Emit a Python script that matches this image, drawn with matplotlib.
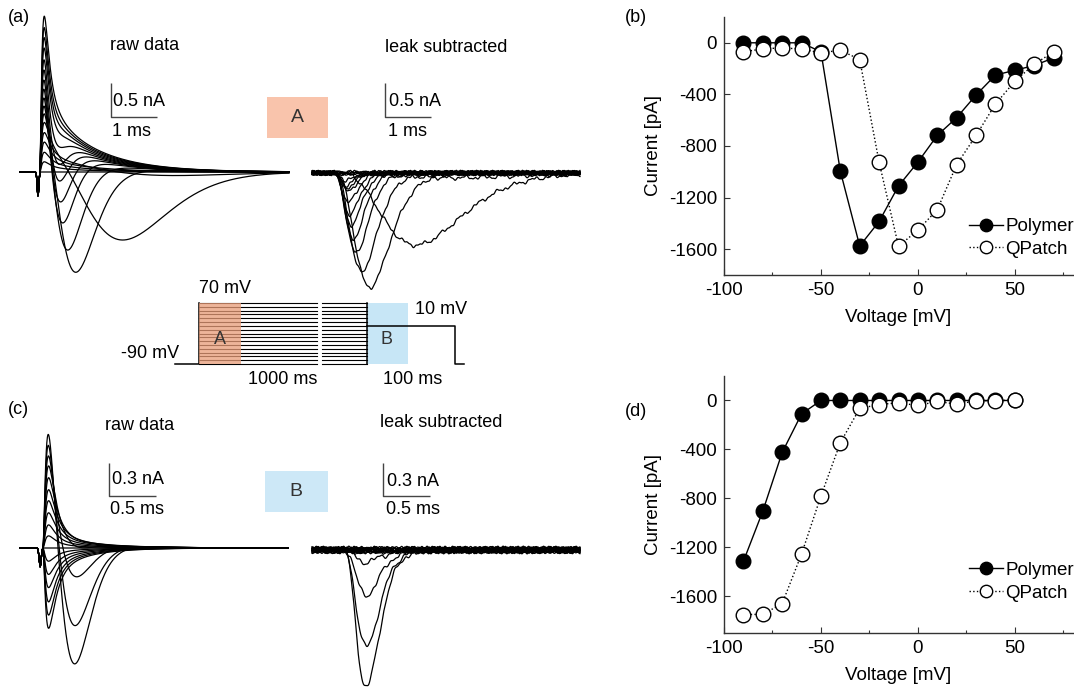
import numpy as np
import matplotlib
matplotlib.use('Agg')
import matplotlib.pyplot as plt
import matplotlib.patches as patches

plt.rcParams['font.family'] = ['Liberation Sans', 'DejaVu Sans']
plt.rcParams['font.size'] = 13
plt.rcParams['axes.unicode_minus'] = False

W, H = 1074, 689

# ---- IV curves, panel (b) : activation ----
volts_b = [-90, -80, -70, -60, -50, -40, -30, -20, -10, 0, 10, 20, 30, 40, 50, 60, 70]
polymer_b = [0, 0, 0, 0, -70, -995, -1575, -1385, -1110, -925, -718, -580, -405, -250, -213, -176, -117]
qpatch_b = [-70, -47, -39, -49, -78, -57, -130, -926, -1577, -1452, -1294, -944, -718, -475, -298, -166, -70]

# ---- IV curves, panel (d) : inactivation ----
volts_d = [-90, -80, -70, -60, -50, -40, -30, -20, -10, 0, 10, 20, 30, 40, 50]
polymer_d = [-1315, -905, -425, -110, 0, 0, 0, 0, 0, 0, 0, 0, 0, 0, 0]
qpatch_d = [-1750, -1747, -1660, -1255, -780, -345, -65, -33, -19, -41, -8, -30, -3, -3, 5]

# ---- current traces (a) and (c), one per step voltage ----
step_volts = volts_b
na_peak_a = [0, 0, 0, 0, -0.07, -1.06, -1.68, -1.45, -1.17, -0.97, -0.76, -0.61, -0.43, -0.27, -0.22, -0.18, -0.12]  # nA
na_tpeak_a = [3.0, 3.0, 3.0, 3.0, 2.6, 1.8, 0.8, 0.62, 0.5, 0.44, 0.4, 0.37, 0.34, 0.32, 0.3, 0.29, 0.28]  # ms
cap_peak_a = [0, 0.15, 0.29, 0.44, 0.58, 0.73, 0.88, 1.02, 1.17, 1.32, 1.46, 1.61, 1.75, 1.90, 2.05, 2.19, 2.34]  # nA
na_peak_c = [-1.25, -0.88, -0.41, -0.11, -0.02, 0, 0, 0, 0, 0, 0, 0, 0, 0, 0, 0, 0]  # nA
cap_peak_c = [1.07, 0.96, 0.85, 0.75, 0.64, 0.53, 0.43, 0.32, 0.21, 0.11, 0, -0.12, -0.24, -0.36, -0.49, -0.61, -0.73]  # nA
na_tpeak_c_raw = 0.33
na_tpeak_c_leak = 0.26

fig = plt.figure(figsize=(W / 100, H / 100), dpi=100)


def px_rect(x0, y0, x1, y1):
    return [x0 / W, 1 - y1 / H, (x1 - x0) / W, (y1 - y0) / H]


def ftext(x, y, s, **kw):
    kw.setdefault('va', 'center')
    fig.text(x / W, 1 - y / H, s, **kw)


def trace_axes(box, origin, sx, sy):
    x0, y0, x1, y1 = box
    ox, oy = origin
    ax = fig.add_axes(px_rect(*box))
    ax.set_xlim((x0 - ox) / sx, (x1 - ox) / sx)
    ax.set_ylim((oy - y1) / sy, (oy - y0) / sy)
    ax.axis('off')
    ax.patch.set_alpha(0)
    ax.px = (ox, oy, sx, sy)
    return ax


def scale_bar(ax, px, py, dx, dy):
    ox, oy, sx, sy = ax.px
    x = (px - ox) / sx
    y = (oy - py) / sy
    ax.plot([x, x, x + dx], [y + dy, y, y], color='#444444', lw=1.0, solid_capstyle='butt')


def na_wave(t, amp, tp, n=4.5):
    s = np.clip(t, 0, None) / tp
    return amp * s ** n * np.exp(n * (1 - s))


def cap_wave(t, amp, rise, tau_fast, tau_slow, w_slow):
    tt = np.clip(t, 0, None)
    shape = (1 - np.exp(-tt / rise)) ** 2 * ((1 - w_slow) * np.exp(-tt / tau_fast) + w_slow * np.exp(-tt / tau_slow))
    return amp * shape / shape.max()


def wiggle(t, k, amp, freq):
    return amp * (np.sin(2 * np.pi * freq * t + 1.7 * k) + 0.6 * np.sin(2 * np.pi * freq * 2.3 * t + 0.9 * k)
                  + 0.4 * np.sin(2 * np.pi * freq * 4.1 * t + 2.3 * k)) / 2.0


# ---------------- panel (a) ----------------
raw_a = trace_axes((0, 0, 300, 300), (38, 172), 46.0, 68.0)
t = np.linspace(-18 / 46, 251 / 46, 1500)
for k, v in enumerate(step_volts):
    y = cap_wave(t - 0.04, cap_peak_a[k], 0.04, 0.15, 1.0, 0.25) + na_wave(t, na_peak_a[k], na_tpeak_a[k])
    y = y - 0.35 * np.exp(-(t / 0.025) ** 2)
    raw_a.plot(t, y, color='black', lw=0.9)
scale_bar(raw_a, 111, 117, 1.0, 0.5)

leak_a = trace_axes((300, 0, 600, 300), (333, 173), 46.0, 68.0)
t = np.linspace(-21 / 46, 247 / 46, 1500)
for k, v in enumerate(step_volts):
    y = na_wave(t, na_peak_a[k], na_tpeak_a[k]) + wiggle(t, k, 0.04, 2.5)
    leak_a.plot(t, y, color='black', lw=0.9)
scale_bar(leak_a, 385, 117, 1.0, 0.5)

# ---------------- panel (c) ----------------
raw_c = trace_axes((0, 390, 300, 689), (42, 548), 94.0, 110.0)
t = np.linspace(-22 / 94, 246 / 94, 1500)
for k, v in enumerate(step_volts):
    y = cap_wave(t - 0.01, cap_peak_c[k], 0.03, 0.08, 0.35, 0.15) + na_wave(t, na_peak_c[k], na_tpeak_c_raw)
    y = y - 0.17 * np.exp(-((t + 0.02) / 0.015) ** 2)
    raw_c.plot(t, y, color='black', lw=0.9)
scale_bar(raw_c, 109, 496, 0.5, 0.3)

leak_c = trace_axes((300, 390, 600, 689), (342, 550), 93.0, 110.0)
t = np.linspace(-30 / 93, 238 / 93, 1500)
for k, v in enumerate(step_volts):
    y = na_wave(t, na_peak_c[k], na_tpeak_c_leak) + wiggle(t, k, 0.035, 4.0)
    leak_c.plot(t, y, color='black', lw=0.9)
scale_bar(leak_c, 383, 496, 0.5, 0.3)

# ---------------- labels on the trace panels ----------------
ftext(8, 17, '(a)')
ftext(8, 410, '(c)')
ftext(110, 45, 'raw data')
ftext(385, 47, 'leak subtracted')
ftext(105, 425, 'raw data')
ftext(380, 423, 'leak subtracted')
ftext(113, 101, '0.5 nA')
ftext(112, 131, '1 ms')
ftext(389, 101, '0.5 nA')
ftext(388, 131, '1 ms')
ftext(112, 480, '0.3 nA')
ftext(110, 509, '0.5 ms')
ftext(387, 481, '0.3 nA')
ftext(386, 510, '0.5 ms')

col_a = '#f9c4ac'
col_b = '#cde8f7'
fig.patches.append(patches.Rectangle((267 / W, 1 - 138 / H), 61 / W, 41 / H, transform=fig.transFigure,
                                     facecolor=col_a, edgecolor='none'))
fig.patches.append(patches.Rectangle((265 / W, 1 - 512 / H), 63 / W, 41 / H, transform=fig.transFigure,
                                     facecolor=col_b, edgecolor='none'))
ftext(297, 118, 'A', ha='center', fontsize=14, color='#333333')
ftext(296, 492, 'B', ha='center', fontsize=14, color='#333333')

# ---------------- voltage protocol ----------------
# schematic x positions (drawing units, not time)
X_HOLD, X_STEP, X_A_END, X_BRK0, X_BRK1, X_TEST, X_B_END, X_TEST_END, X_END = 175, 199, 241, 317, 322, 367, 408, 455, 464
TEST_V = 10
HOLD_V = -90
proto = fig.add_axes(px_rect(120, 270, 480, 395))
proto.set_xlim(120, 480)
proto.set_ylim(HOLD_V - (395 - 364) / 0.381, 70 + (303 - 270) / 0.381)
proto.axis('off')
proto.patch.set_alpha(0)
vmax = max(step_volts)
for v in step_volts:
    proto.plot([X_STEP, X_BRK0], [v, v], color='black', lw=0.8)
    proto.plot([X_BRK1, X_TEST], [v, v], color='black', lw=0.8)
proto.plot([X_HOLD, X_STEP, X_STEP], [HOLD_V, HOLD_V, vmax], color='black', lw=1.1)
proto.plot([X_TEST, X_TEST], [HOLD_V, vmax], color='black', lw=1.1)
proto.plot([X_TEST, X_TEST_END, X_TEST_END, X_END], [TEST_V, TEST_V, HOLD_V, HOLD_V], color='black', lw=1.1)
proto.add_patch(patches.Rectangle((X_STEP, HOLD_V), X_A_END - X_STEP, vmax - HOLD_V,
                                  facecolor='#e89c78', edgecolor='none', alpha=0.75, zorder=3))
proto.add_patch(patches.Rectangle((X_TEST, HOLD_V), X_B_END - X_TEST, vmax - HOLD_V,
                                  facecolor='#c7e6f6', edgecolor='none', zorder=0))
ftext(225, 288, '70 mV', ha='center')
ftext(150, 353, '-90 mV', ha='center')
ftext(441, 309, '10 mV', ha='center')
ftext(283, 379, '1000 ms', ha='center')
ftext(413, 379, '100 ms', ha='center')
ftext(220, 339, 'A', ha='center', color='#333333', zorder=5)
ftext(387, 339, 'B', ha='center', color='#333333')


# ---------------- IV panels ----------------
def iv_axes(box, ylim):
    ax = fig.add_axes(px_rect(*box))
    ax.set_xlim(-100, 80)
    ax.set_ylim(*ylim)
    for s in ['top', 'right']:
        ax.spines[s].set_visible(False)
    for s in ['left', 'bottom']:
        ax.spines[s].set_color('#333333')
        ax.spines[s].set_linewidth(1.0)
    ax.set_xticks([-100, -50, 0, 50])
    ax.set_xticks([-75, -25, 25, 75], minor=True)
    ax.set_yticks([0, -400, -800, -1200, -1600])
    ax.tick_params(direction='in', length=4, width=0.8, labelsize=13.5, pad=5, colors='#333333', labelcolor='black')
    ax.tick_params(which='minor', direction='in', length=2.5, width=0.8, colors='#333333')
    ax.set_xlabel('Voltage [mV]', fontsize=13.5, labelpad=7)
    ax.set_ylabel('Current [pA]', fontsize=13.5, labelpad=5)
    return ax


def iv_plot(ax, vx, poly, qp, leg_y):
    ax.plot(vx, poly, '-o', color='black', lw=1.0, ms=10.5, mfc='black', mec='black', label='Polymer')
    ax.plot(vx, qp, ':o', color='black', lw=1.0, ms=10.5, mfc='white', mec='black', mew=1.0, label='QPatch')
    ax.legend(loc='lower right', bbox_to_anchor=(1.03, leg_y), frameon=False, fontsize=13.5,
              handlelength=1.8, handletextpad=0.15, labelspacing=0.3, borderpad=0, markerscale=0.85)


ax_b = iv_axes((724, 17, 1073, 275), (-1800, 200))
iv_plot(ax_b, volts_b, polymer_b, qpatch_b, 0.03)
ax_d = iv_axes((724, 376, 1073, 633), (-1900, 200))
iv_plot(ax_d, volts_d, polymer_d, qpatch_d, 0.085)
ftext(625, 17, '(b)')
ftext(625, 411, '(d)')

fig.savefig('out.png', dpi=100)
